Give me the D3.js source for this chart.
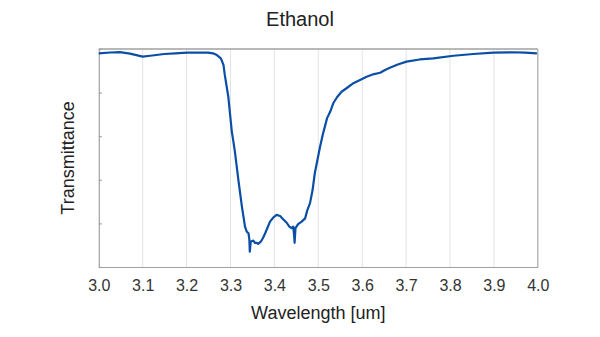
<!DOCTYPE html>
<html>
<head>
<meta charset="utf-8">
<script src="https://cdn.jsdelivr.net/npm/d3@7"></script>
<style>
  html, body { margin: 0; padding: 0; background: #fff; }
  svg { display: block; font-family: "Liberation Sans", Arial, sans-serif; }
</style>
</head>
<body>
<svg id="chart" width="600" height="337"></svg>
<script>
// Ethanol IR transmission spectrum (wavelength in um, transmittance in %)
const wavelength = [
  3.000, 3.026, 3.048, 3.071, 3.100, 3.117, 3.149, 3.174, 3.201, 3.231,
  3.249, 3.260, 3.269, 3.278, 3.284, 3.287, 3.295, 3.303, 3.306, 3.310,
  3.318, 3.326, 3.333, 3.337, 3.341, 3.343, 3.344, 3.346, 3.349, 3.352,
  3.356, 3.360, 3.363, 3.369, 3.374, 3.379, 3.384, 3.390, 3.398, 3.405,
  3.413, 3.420, 3.428, 3.434, 3.439, 3.443, 3.445, 3.446, 3.447, 3.448,
  3.454, 3.462, 3.470, 3.475, 3.481, 3.487, 3.492, 3.498, 3.504, 3.510,
  3.515, 3.520, 3.527, 3.534, 3.543, 3.553, 3.565, 3.580, 3.595, 3.610,
  3.627, 3.641, 3.652, 3.663, 3.681, 3.701, 3.731, 3.762, 3.808, 3.853,
  3.899, 3.944, 3.971, 3.998
];
const transmittance = [
  98.0, 98.4, 98.6, 97.9, 96.5, 96.9, 97.7, 98.0, 98.3, 98.4,
  98.3, 98.0, 97.2, 95.7, 92.7, 88.1, 78.1, 62.1, 58.3, 52.9,
  39.9, 27.7, 18.5, 16.2, 15.5, 12.4, 7.0, 11.6, 11.9, 12.1,
  11.0, 11.1, 10.6, 11.6, 13.3, 15.5, 17.9, 20.8, 22.8, 23.9,
  23.4, 21.9, 20.3, 18.5, 17.8, 18.5, 14.2, 11.1, 14.2, 17.8,
  19.7, 20.8, 22.3, 26.1, 29.2, 35.3, 43.0, 49.1, 55.2, 60.6,
  64.4, 68.3, 71.2, 75.1, 78.0, 80.4, 82.1, 84.3, 85.8, 87.3,
  88.5, 89.1, 90.4, 91.4, 92.9, 94.2, 95.2, 95.7, 96.9, 97.7,
  98.3, 98.5, 98.3, 98.0
];
const xTicks = [3.0, 3.1, 3.2, 3.3, 3.4, 3.5, 3.6, 3.7, 3.8, 3.9, 4.0];
const yTicks = [0, 20, 40, 60, 80, 100];

const svg = d3.select("#chart");
const margin = { left: 98.8, right: 62.2, top: 49, bottom: 70 };
const W = 600, H = 337;

const x = d3.scaleLinear().domain([3.0, 4.0]).range([margin.left, W - margin.right]);
const y = d3.scaleLinear().domain([0, 100]).range([H - margin.bottom, margin.top]);

// vertical gridlines
svg.append("g")
  .selectAll("line")
  .data(xTicks.slice(1, -1))
  .join("line")
  .attr("x1", d => x(d)).attr("x2", d => x(d))
  .attr("y1", y(0)).attr("y2", y(100))
  .attr("stroke", "#e3e3e3").attr("stroke-width", 1);

// frame
const frame = svg.append("g").attr("fill", "none");
frame.append("line").attr("x1", x(3)).attr("x2", x(4)).attr("y1", y(100)).attr("y2", y(100))
  .attr("stroke", "#a0a0a0").attr("stroke-width", 1.5);
frame.append("line").attr("x1", x(4)).attr("x2", x(4)).attr("y1", y(100)).attr("y2", y(0))
  .attr("stroke", "#a8a8a8").attr("stroke-width", 1.2);

// left axis with inward ticks, no labels
svg.append("g")
  .attr("transform", `translate(${x(3)},0)`)
  .call(d3.axisRight(y).tickValues(yTicks).tickSize(3).tickFormat(""))
  .call(g => g.selectAll("path,line").attr("stroke", "#a0a0a0").attr("stroke-width", 1.2));

// bottom axis
svg.append("g")
  .attr("transform", `translate(0,${y(0)})`)
  .call(d3.axisBottom(x).tickValues(xTicks).tickSize(0).tickPadding(13).tickFormat(d3.format(".1f")))
  .call(g => g.select(".domain").attr("stroke", "#a0a0a0").attr("stroke-width", 1.2))
  .call(g => g.selectAll("text").attr("fill", "#333").attr("font-size", 16)
    .attr("font-family", "'Liberation Sans', Arial, sans-serif"));

// spectrum
svg.append("path")
  .datum(wavelength.map((w, i) => [w, transmittance[i]]))
  .attr("fill", "none")
  .attr("stroke", "#0a4ea6")
  .attr("stroke-width", 2.2)
  .attr("stroke-linejoin", "round")
  .attr("d", d3.line().x(d => x(d[0])).y(d => y(d[1])));

// titles
svg.append("text").attr("x", 300).attr("y", 26).attr("text-anchor", "middle")
  .attr("font-size", 20).attr("fill", "#222").text("Ethanol");
svg.append("text").attr("x", (x(3) + x(4)) / 2).attr("y", 319).attr("text-anchor", "middle")
  .attr("font-size", 18).attr("fill", "#222").text("Wavelength [um]");
svg.append("text")
  .attr("transform", `translate(74,${(y(0) + y(100)) / 2}) rotate(-90)`)
  .attr("text-anchor", "middle")
  .attr("font-size", 18).attr("fill", "#222").text("Transmittance");
</script>
</body>
</html>
